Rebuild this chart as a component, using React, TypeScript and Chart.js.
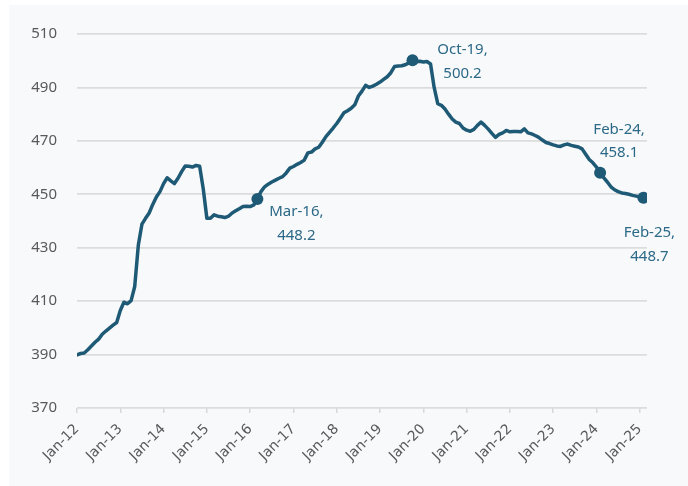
import React, { useEffect, useRef } from "react";
import { Chart, registerables } from "chart.js";

Chart.register(...registerables);

const monthNames = ["Jan", "Feb", "Mar", "Apr", "May", "Jun", "Jul", "Aug", "Sep", "Oct", "Nov", "Dec"];
const startYear = 2012;

// Monthly values, Jan-12 .. Feb-25
const values: number[] = [
  // 2012
  389.9, 390.4, 390.6, 391.8, 393.2, 394.6, 395.8, 397.6, 398.8, 399.9, 401.0, 402.0,
  // 2013
  406.5, 409.6, 409.0, 410.2, 415.5, 431.0, 438.8, 441.0, 443.0, 446.2, 449.0, 451.0,
  // 2014
  454.0, 456.2, 455.0, 454.0, 456.0, 458.5, 460.6, 460.5, 460.2, 460.8, 460.5, 452.0,
  // 2015
  441.0, 441.0, 442.3, 441.8, 441.6, 441.3, 441.8, 443.0, 443.8, 444.6, 445.4, 445.5,
  // 2016
  445.4, 446.0, 448.2, 451.0, 452.8, 453.8, 454.6, 455.3, 456.0, 456.6, 458.0, 459.8,
  // 2017
  460.4, 461.2, 461.9, 462.8, 465.5, 465.8, 467.0, 467.6, 469.5, 471.6, 473.2, 474.8,
  // 2018
  476.5, 478.5, 480.5, 481.3, 482.2, 483.5, 486.8, 488.6, 490.8, 490.0, 490.5, 491.2,
  // 2019
  492.0, 493.0, 494.0, 495.5, 497.8, 498.0, 498.1, 498.5, 499.2, 500.2, 499.6, 499.8,
  // 2020
  499.5, 499.7, 498.8, 490.0, 483.9, 483.3, 481.9, 480.0, 478.2, 477.0, 476.5, 474.8,
  // 2021
  474.0, 473.6, 474.3, 475.8, 477.0, 475.8, 474.4, 472.8, 471.3, 472.4, 473.0, 473.9,
  // 2022
  473.4, 473.5, 473.5, 473.4, 474.5, 473.0, 472.6, 472.0, 471.3, 470.3, 469.4, 469.0,
  // 2023
  468.5, 468.1, 467.9, 468.5, 468.8, 468.3, 468.0, 467.7, 467.0, 465.0, 463.0, 461.8,
  // 2024
  460.2, 458.1, 456.2, 454.6, 452.8, 451.7, 451.0, 450.5, 450.3, 450.0, 449.6, 449.3,
  // 2025
  449.0, 448.7,
];

const monthLabels: string[] = values.map(
  (_, i) => `${monthNames[i % 12]}-${String((startYear + Math.floor(i / 12)) % 100).padStart(2, "0")}`
);

const yearTickIndices: number[] = [0, 12, 24, 36, 48, 60, 72, 84, 96, 108, 120, 132, 144, 156];

const annotatedIndices: number[] = [50, 93, 145, 157];

// label placement relative to the marked point: [dx, dy of first line]
const annotationOffsets: [number, number][] = [
  [39, 13],
  [50, -10],
  [19, -43],
  [6, 35],
];

const yTicks = { min: 370, max: 510, step: 20 };

const LINE_COLOR = "#1e5a76";
const LABEL_COLOR = "#2b6987";
const FONT = "'Noto Sans', sans-serif";
const XFONT = "'DejaVu Sans', sans-serif";

const annotationPlugin = {
  id: "pointAnnotations",
  afterDatasetsDraw(chart: any) {
    const meta = chart.getDatasetMeta(0);
    const ctx = chart.ctx;
    ctx.save();
    ctx.fillStyle = LABEL_COLOR;
    ctx.font = `15px ${FONT}`;
    ctx.textAlign = "center";
    ctx.textBaseline = "middle";
    annotatedIndices.forEach((idx, k) => {
      const el = meta.data[idx];
      if (!el) return;
      const [dx, dy] = annotationOffsets[k];
      const lines = [monthLabels[idx] + ",", values[idx].toFixed(1)];
      lines.forEach((t, j) => {
        ctx.fillText(t, el.x + dx, el.y + dy + j * 23.5);
      });
    });
    ctx.restore();
  },
};

export default function App() {
  const canvasRef = useRef<HTMLCanvasElement | null>(null);

  useEffect(() => {
    if (!canvasRef.current) return;
    const points = values.map((v, i) => ({ x: i, y: v }));
    const chart = new Chart(canvasRef.current, {
      type: "line",
      data: {
        datasets: [
          {
            data: points,
            borderColor: LINE_COLOR,
            backgroundColor: LINE_COLOR,
            borderWidth: 3.5,
            tension: 0,
            borderJoinStyle: "round",
            borderCapStyle: "round",
            pointRadius: (c: any) => (annotatedIndices.includes(c.dataIndex) ? 6 : 0),
            pointHoverRadius: 0,
            pointBorderWidth: 0,
            fill: false,
          },
        ],
      },
      options: {
        responsive: false,
        animation: false,
        events: [],
        layout: { padding: { top: 28, right: 41, left: 0, bottom: 0 } },
        plugins: {
          legend: { display: false },
          tooltip: { enabled: false },
        },
        scales: {
          x: {
            type: "linear",
            min: 0,
            max: values.length,
            afterBuildTicks: (scale: any) => {
              scale.ticks = yearTickIndices.map((v) => ({ value: v }));
            },
            afterFit: (scale: any) => {
              scale.height = 78;
            },
            border: { display: false },
            grid: {
              drawOnChartArea: false,
              drawTicks: true,
              tickLength: 5,
              color: "#d9d9d9",
              lineWidth: 1.5,
            },
            ticks: {
              autoSkip: false,
              maxRotation: 45,
              minRotation: 45,
              padding: 8,
              color: "#595959",
              font: { family: XFONT, size: 14 },
              callback: (v: any) => monthLabels[Number(v)] ?? "",
            },
          },
          y: {
            min: yTicks.min,
            max: yTicks.max,
            afterFit: (scale: any) => {
              scale.width = 68;
            },
            border: { display: false },
            grid: {
              drawTicks: false,
              color: "#dcdcdc",
              lineWidth: 1.8,
            },
            ticks: {
              stepSize: yTicks.step,
              padding: 20,
              color: "#595959",
              font: { family: FONT, size: 15 },
            },
          },
        },
      },
      plugins: [annotationPlugin],
    } as any);
    return () => chart.destroy();
  }, []);

  return (
    <div
      style={{
        position: "absolute",
        left: 9,
        top: 5,
        width: 679,
        height: 481,
        background: "#f8f9fb",
      }}
    >
      <canvas ref={canvasRef} width={679} height={481} style={{ display: "block" }} />
    </div>
  );
}
